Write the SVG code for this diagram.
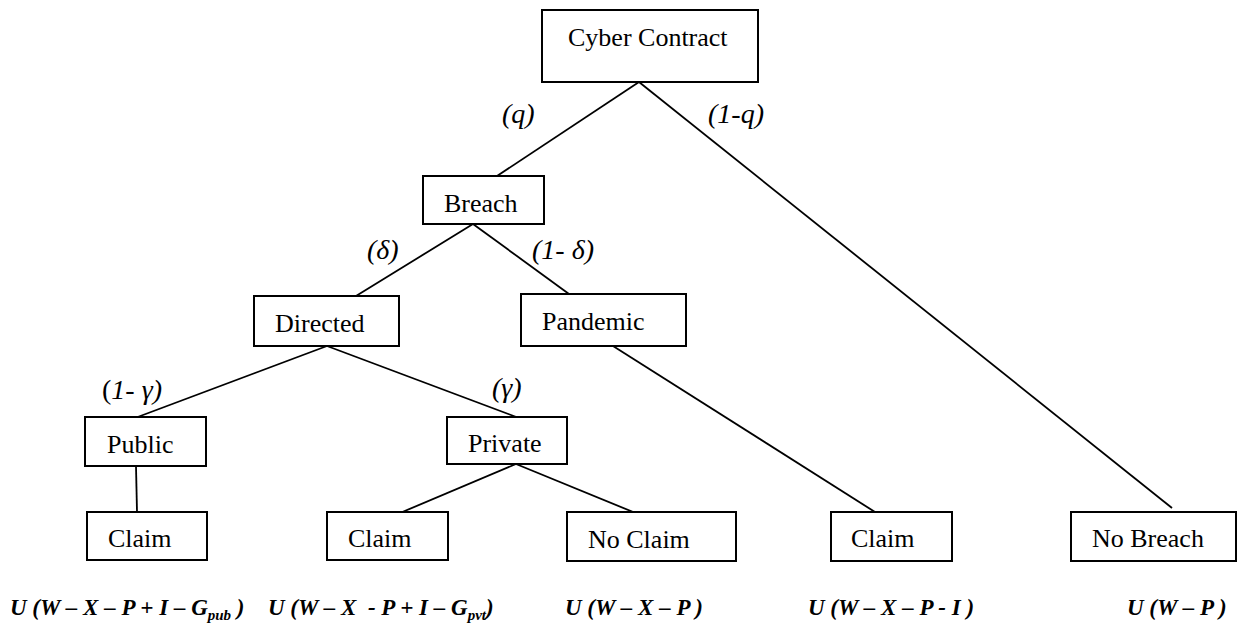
<svg xmlns="http://www.w3.org/2000/svg" width="1238" height="626" viewBox="0 0 1238 626">
<style>
  .box{fill:#fff;stroke:#000;stroke-width:2}
  .lbl{font-family:"Liberation Serif","Times New Roman",serif;font-size:26px;fill:#000}
  .prob{font-family:"Liberation Serif","Times New Roman",serif;font-size:28px;font-style:italic;fill:#000}
  .util{font-family:"Liberation Serif","Times New Roman",serif;font-size:23px;font-style:italic;font-weight:bold;fill:#000;white-space:pre}
  .sub{font-size:15px}
  #connectors line{stroke:#000;stroke-width:1.8}
</style>
<rect width="1238" height="626" fill="#fff"/>
<g id="connectors">
  <line x1="639" y1="82" x2="497" y2="176"/>
  <line x1="639" y1="82" x2="1172" y2="508"/>
  <line x1="473" y1="224" x2="356" y2="296"/>
  <line x1="473" y1="224" x2="569" y2="294"/>
  <line x1="327" y1="346" x2="135" y2="418"/>
  <line x1="327" y1="346" x2="519" y2="418"/>
  <line x1="613" y1="346" x2="875" y2="512"/>
  <line x1="136" y1="466" x2="137" y2="512"/>
  <line x1="516" y1="464" x2="400" y2="513"/>
  <line x1="516" y1="464" x2="638" y2="514"/>
</g>
<g id="node-cyber"><rect class="box" x="542" y="10" width="216" height="72"/><text class="lbl" x="568" y="46">Cyber Contract</text></g>
<g id="node-breach"><rect class="box" x="423" y="176" width="121" height="48"/><text class="lbl" x="444" y="212">Breach</text></g>
<g id="node-directed"><rect class="box" x="254" y="296" width="145" height="50"/><text class="lbl" x="275" y="332">Directed</text></g>
<g id="node-pandemic"><rect class="box" x="521" y="294" width="165" height="52"/><text class="lbl" x="542" y="330">Pandemic</text></g>
<g id="node-public"><rect class="box" x="85" y="417" width="121" height="49"/><text class="lbl" x="107" y="453">Public</text></g>
<g id="node-private"><rect class="box" x="447" y="417" width="120" height="47"/><text class="lbl" x="468" y="452">Private</text></g>
<g id="node-claim1"><rect class="box" x="87" y="512" width="120" height="48"/><text class="lbl" x="108" y="547">Claim</text></g>
<g id="node-claim2"><rect class="box" x="327" y="512" width="121" height="48"/><text class="lbl" x="348" y="547">Claim</text></g>
<g id="node-noclaim"><rect class="box" x="567" y="512" width="169" height="49"/><text class="lbl" x="588" y="548">No Claim</text></g>
<g id="node-claim3"><rect class="box" x="831" y="512" width="121" height="49"/><text class="lbl" x="851" y="547">Claim</text></g>
<g id="node-nobreach"><rect class="box" x="1071" y="512" width="165" height="49"/><text class="lbl" x="1092" y="547">No Breach</text></g>
<g id="probabilities">
  <text class="prob" x="502" y="123">(q)</text>
  <text class="prob" x="708" y="123">(1-q)</text>
  <text class="prob" x="367" y="259">(δ)</text>
  <text class="prob" x="532" y="259">(1- δ)</text>
  <text class="prob" x="102" y="399"><tspan font-style="normal">(</tspan>1- γ)</text>
  <text class="prob" x="492" y="397">(γ)</text>
</g>
<g id="payoffs">
  <text class="util" x="10" y="615">U (W – X – P + I – G<tspan class="sub" dy="5">pub</tspan><tspan dy="-5"> )</tspan></text>
  <text class="util" x="268" y="615">U (W – X  - P + I – G<tspan class="sub" dy="5">pvt</tspan><tspan dy="-5">)</tspan></text>
  <text class="util" x="565" y="615">U (W – X – P )</text>
  <text class="util" x="808" y="615">U (W – X – P - I )</text>
  <text class="util" x="1127" y="615">U (W – P )</text>
</g>
</svg>
